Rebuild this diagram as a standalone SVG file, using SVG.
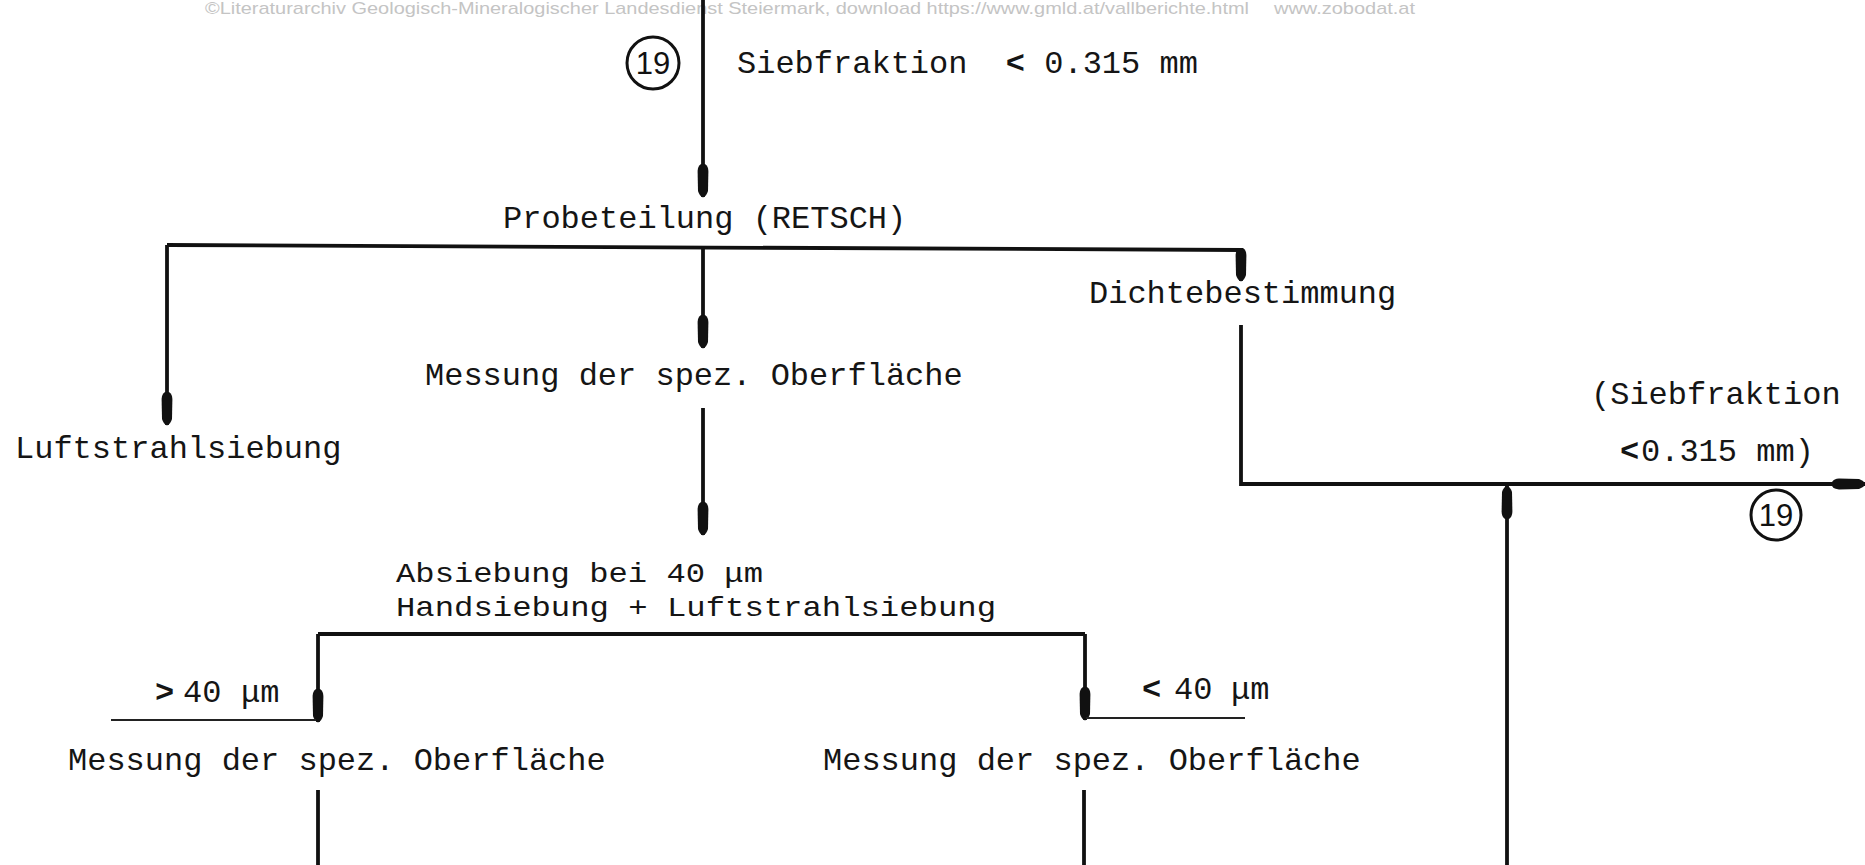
<svg xmlns="http://www.w3.org/2000/svg" width="1865" height="865" viewBox="0 0 1865 865">
  <style>
    .t { font-family: "Liberation Mono", "DejaVu Sans Mono", monospace; font-size: 32px; fill: #151515; }
    .t2 { font-family: "Liberation Mono", "DejaVu Sans Mono", monospace; font-size: 28px; fill: #151515; }
    .wm { font-family: "Liberation Sans", Arial, sans-serif; font-size: 17px; fill: #c4c4c4; }
    .num { font-family: "Liberation Sans", Arial, sans-serif; font-size: 31px; fill: #111; }
    .c { fill: none; stroke: #111; stroke-width: 3.8; stroke-linejoin: miter; }
    .thin { fill: none; stroke: #222; stroke-width: 1.8; }
    .ring { fill: none; stroke: #111; stroke-width: 3; }
  </style>
  <defs>
    <marker id="ah" markerUnits="userSpaceOnUse" viewBox="0 0 34 14" markerWidth="34" markerHeight="14" refX="33" refY="7" orient="auto">
      <path d="M0,5 Q2,1.8 7,1.6 L27,2 Q32,3.5 33.5,7 Q32,10.5 27,12 L7,12.4 Q2,12.2 0,9 Z" fill="#111"/>
    </marker>
  </defs>
  <rect width="1865" height="865" fill="#ffffff"/>

  <g id="watermark">
    <text class="wm" x="205" y="14" textLength="1044" lengthAdjust="spacingAndGlyphs">©Literaturarchiv Geologisch-Mineralogischer Landesdienst Steiermark, download https://www.gmld.at/vallberichte.html</text>
    <text class="wm" x="1274" y="14" textLength="141" lengthAdjust="spacingAndGlyphs">www.zobodat.at</text>
  </g>

  <g id="connectors">
    <path class="c" d="M703,0 L703,197" marker-end="url(#ah)"/>
    <path class="c" d="M167,245 L1241,250"/>
    <path class="c" d="M167,245 L167,425" marker-end="url(#ah)"/>
    <path class="c" d="M703,247 L703,348" marker-end="url(#ah)"/>
    <path class="c" d="M1241,250 L1241,281" marker-end="url(#ah)"/>
    <path class="c" d="M703,408 L703,535" marker-end="url(#ah)"/>
    <path class="c" d="M318,634 L1085,634"/>
    <path class="c" d="M318,634 L318,722" marker-end="url(#ah)"/>
    <path class="c" d="M1085,634 L1085,720" marker-end="url(#ah)"/>
    <path class="thin" d="M111,720 L316,720"/>
    <path class="thin" d="M1086,718 L1245,718"/>
    <path class="c" d="M318,790 L318,865"/>
    <path class="c" d="M1084,790 L1084,865"/>
    <path class="c" d="M1241,325 L1241,484 L1865,484" marker-end="url(#ah)"/>
    <path class="c" d="M1507,865 L1507,486" marker-end="url(#ah)"/>
  </g>

  <g id="start">
    <circle class="ring" cx="653" cy="63" r="26"/>
    <text class="num" x="653" y="74" text-anchor="middle">19</text>
    <text class="t" x="737" y="73" xml:space="preserve">Siebfraktion  <tspan font-weight="bold">&lt;</tspan> 0.315 mm</text>
  </g>

  <g id="probeteilung">
    <text class="t" x="503" y="228">Probeteilung (RETSCH)</text>
  </g>

  <g id="luftstrahlsiebung">
    <text class="t" x="15" y="458">Luftstrahlsiebung</text>
  </g>

  <g id="messung-oberflaeche">
    <text class="t" x="425" y="385">Messung der spez. Oberfläche</text>
  </g>

  <g id="dichtebestimmung">
    <text class="t" x="1089" y="303">Dichtebestimmung</text>
  </g>

  <g id="absiebung">
    <text class="t2" x="396" y="582" textLength="367" lengthAdjust="spacingAndGlyphs">Absiebung bei 40 μm</text>
    <text class="t2" x="396" y="616" textLength="600" lengthAdjust="spacingAndGlyphs">Handsiebung + Luftstrahlsiebung</text>
  </g>

  <g id="label-gt40">
    <text class="t" x="155" y="702"><tspan font-weight="bold">&gt;</tspan><tspan x="183">40</tspan><tspan x="241">μm</tspan></text>
  </g>

  <g id="label-lt40">
    <text class="t" x="1142" y="699"><tspan font-weight="bold">&lt;</tspan><tspan x="1174">40</tspan><tspan x="1231">μm</tspan></text>
  </g>

  <g id="messung-gt40">
    <text class="t" x="68" y="770">Messung der spez. Oberfläche</text>
  </g>

  <g id="messung-lt40">
    <text class="t" x="823" y="770">Messung der spez. Oberfläche</text>
  </g>

  <g id="output">
    <text class="t" x="1591" y="404">(Siebfraktion</text>
    <text class="t" x="1620" y="461"><tspan font-weight="bold">&lt;</tspan><tspan x="1641">0.315 mm)</tspan></text>
    <circle class="ring" cx="1776" cy="515" r="25"/>
    <text class="num" x="1776" y="526" text-anchor="middle">19</text>
  </g>
</svg>
